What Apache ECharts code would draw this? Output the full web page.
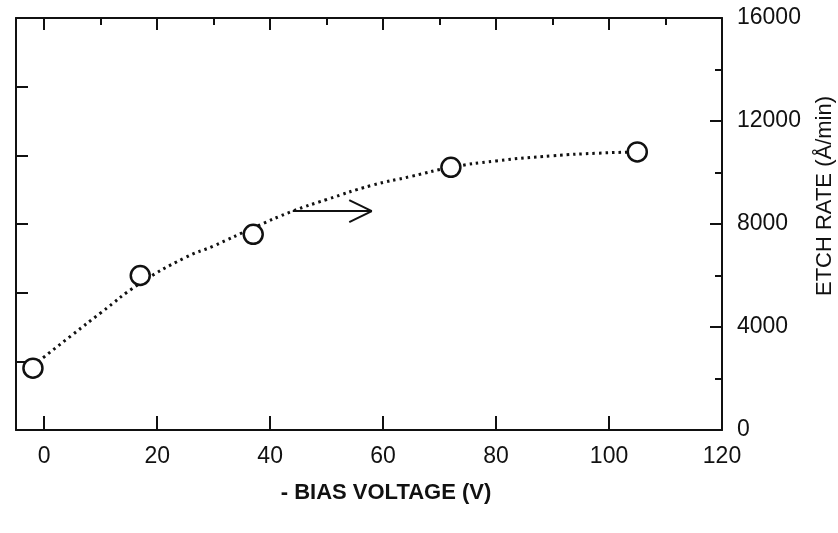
<!DOCTYPE html>
<html>
<head>
<meta charset="utf-8">
<script src="https://cdn.jsdelivr.net/npm/echarts@6/dist/echarts.min.js"></script>
<style>
  html, body { margin: 0; padding: 0; background: #fff; }
  #main { width: 838px; height: 533px; }
</style>
</head>
<body>
<div id="main"></div>
<script>
// measured points
var voltage = [-2, 17, 37, 72, 105];
var etchRate = [2400, 6000, 7600, 10200, 10800];
// dotted fit curve
var fitVoltage = [-2, 5, 10, 17, 25, 30, 37, 44, 50, 58, 65, 72, 80, 90, 98, 105];
var fitRate = [2500, 3700, 4550, 5700, 6700, 7150, 7850, 8500, 8950, 9500, 9850, 10200, 10450, 10650, 10750, 10800];
// arrow pointing to the right axis
var arrowFrom = [44, 8500];
var arrowTo = [58, 8500];
var arrowHeadUp = [54, 8930];
var arrowHeadDown = [54, 8070];
// ticks
var xTicks = [0, 20, 40, 60, 80, 100, 120];
var xMinorTicks = [10, 30, 50, 70, 90, 110];

var ink = '#111';
var fontFam = '"Liberation Sans", Arial, sans-serif';

function pairs(xs, ys) {
	var out = [];
	for (var i = 0; i < xs.length; i++) {
		out.push([xs[i], ys[i]]);
	}
	return out;
}

var myChart = echarts.init(document.getElementById('main'));
var option = {
	backgroundColor: '#fff',
	animation: false,
	grid: { left: 16, right: 116, top: 18, bottom: 103, outerBoundsMode: 'none', containLabel: false },
	xAxis: [
		{
			type: 'value', position: 'bottom', min: -5, max: 120,
			axisLine: { show: true, onZero: false, lineStyle: { color: ink, width: 2 } },
			axisTick: { show: true, inside: true, length: 14, customValues: xTicks, lineStyle: { color: ink, width: 2 } },
			axisLabel: { customValues: xTicks, margin: 15, fontSize: 23, color: ink, fontFamily: fontFam },
			splitLine: { show: false },
			name: '- BIAS VOLTAGE (V)',
			nameLocation: 'middle',
			nameGap: 52,
			nameTextStyle: { fontSize: 22, fontWeight: 'bold', color: ink, fontFamily: fontFam, padding: [0, 0, 0, 34] }
		},
		{
			type: 'value', position: 'top', min: -5, max: 120,
			axisLine: { show: true, onZero: false, lineStyle: { color: ink, width: 2 } },
			axisTick: { show: true, inside: true, length: 12, customValues: xTicks, lineStyle: { color: ink, width: 2 } },
			axisLabel: { show: false },
			splitLine: { show: false }
		},
		{
			type: 'value', position: 'top', min: -5, max: 120,
			axisLine: { show: false, onZero: false },
			axisTick: { show: true, inside: true, length: 7, customValues: xMinorTicks, lineStyle: { color: ink, width: 2 } },
			axisLabel: { show: false },
			splitLine: { show: false }
		}
	],
	yAxis: [
		{
			type: 'value', position: 'right', min: 0, max: 16000, interval: 4000,
			axisLine: { show: true, onZero: false, lineStyle: { color: ink, width: 2 } },
			axisTick: { show: true, inside: true, length: 12, lineStyle: { color: ink, width: 2 } },
			minorTick: { show: true, splitNumber: 2, length: 7, lineStyle: { color: ink, width: 2 } },
			axisLabel: { margin: 15, fontSize: 23, color: ink, fontFamily: fontFam, formatter: function (v) { return String(v); } },
			splitLine: { show: false },
			name: 'ETCH RATE (Å/min)',
			nameLocation: 'middle',
			nameRotate: 90,
			nameGap: 92,
			nameTextStyle: { fontSize: 22, color: ink, fontFamily: fontFam, padding: [0, 0, 0, 56] }
		},
		{
			type: 'value', position: 'left', min: 0, max: 6, interval: 1,
			axisLine: { show: true, onZero: false, lineStyle: { color: ink, width: 2 } },
			axisTick: { show: true, inside: true, length: 12, lineStyle: { color: ink, width: 2 } },
			axisLabel: { show: false },
			splitLine: { show: false }
		}
	],
	series: [
		{
			name: 'fit',
			type: 'line',
			smooth: true,
			showSymbol: false,
			lineStyle: { color: ink, width: 3, type: [2.5, 4] },
			data: pairs(fitVoltage, fitRate),
			markLine: {
				silent: true,
				symbol: ['none', 'none'],
				label: { show: false },
				lineStyle: { color: ink, width: 2, type: 'solid' },
				data: [
					[{ coord: arrowFrom }, { coord: arrowTo }],
					[{ coord: arrowTo }, { coord: arrowHeadUp }],
					[{ coord: arrowTo }, { coord: arrowHeadDown }]
				]
			},
			z: 2
		},
		{
			name: 'etch rate',
			type: 'scatter',
			symbol: 'circle',
			symbolSize: 19,
			itemStyle: { color: '#fff', borderColor: ink, borderWidth: 2.5, opacity: 1 },
			data: pairs(voltage, etchRate),
			z: 3
		}
	]
};
myChart.setOption(option);
</script>
</body>
</html>
